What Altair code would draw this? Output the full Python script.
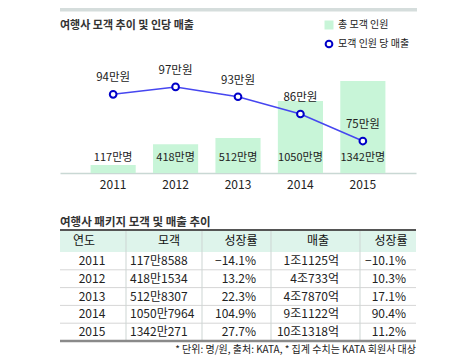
import altair as alt
import pandas as pd

# ---- data ----
years = ["2011", "2012", "2013", "2014", "2015"]
visitors = [117, 418, 512, 1050, 1342]                      # 만명
visitor_labels = ["117만명", "418만명", "512만명", "1050만명", "1342만명"]
per_capita = [94, 97, 93, 86, 75]                           # 만원
per_capita_labels = ["94만원", "97만원", "93만원", "86만원", "75만원"]

tbl_customers = ["117만8588", "418만1534", "512만8307", "1050만7964", "1342만271"]
tbl_cust_growth = ["−14.1%", "13.2%", "22.3%", "104.9%", "27.7%"]
tbl_sales = ["1조1125억", "4조733억", "4조7870억", "9조1122억", "10조1318억"]
tbl_sales_growth = ["−10.1%", "10.3%", "17.1%", "90.4%", "11.2%"]
tbl_headers = ["연도", "모객", "성장률", "매출", "성장률"]

title_top = "여행사 모객 추이 및 인당 매출"
title_table = "여행사 패키지 모객 및 매출 추이"
legend_bar = "총 모객 인원"
legend_line = "모객 인원 당 매출"
footnote = "* 단위: 명/원, 출처: KATA, * 집계 수치는 KATA 회원사 대상"

# ---- styling ----
FONT = "Noto Sans CJK KR"
BAR_COLOR = "#c8f5d8"
LINE_COLOR = "#4646f0"
MARK_STROKE = "#0000c8"
TEXT = "#222222"
W = 356
TOP_H = 165
TAB_H = 89


def one(text=""):
    return alt.Chart(pd.DataFrame({"t": [text]}))


def deco_text(text, x, y, **kw):
    return one(text).mark_text(**kw).encode(x=alt.value(x), y=alt.value(y), text="t:N")


def hrule(x1, x2, y, color, width):
    return one().mark_rule(color=color, strokeWidth=width).encode(
        x=alt.value(x1), x2=alt.value(x2), y=alt.value(y))


def vrule(x, y1, y2, color, width):
    return one().mark_rule(color=color, strokeWidth=width).encode(
        x=alt.value(x), y=alt.value(y1), y2=alt.value(y2))


# ---------------- top chart ----------------
top_df = pd.DataFrame({
    "year": years, "visitors": visitors, "vlab": visitor_labels,
    "pc": per_capita, "pclab": per_capita_labels,
})

x_enc = alt.X(
    "year:O",
    scale=alt.Scale(type="band", paddingInner=0.277, paddingOuter=0.49),
    axis=alt.Axis(title=None, labelAngle=0, ticks=False, domainColor="#c9d8d4",
                  domainWidth=1.5, labelFontSize=12, labelColor=TEXT,
                  labelPadding=6, grid=False),
)
y_bar = alt.Y("visitors:Q", scale=alt.Scale(domain=[0, 2407], nice=False, zero=True), axis=None)
y_line = alt.Y("pc:Q", scale=alt.Scale(domain=[62, 129.1], nice=False, zero=False), axis=None)

base = alt.Chart(top_df)
bars = base.mark_bar(color=BAR_COLOR).encode(x=x_enc, y=y_bar)
bar_labels = base.mark_text(fontSize=11, color=TEXT).encode(
    x=x_enc, y=alt.value(150), text="vlab:N")
line = base.mark_line(color=LINE_COLOR, strokeWidth=1.5).encode(x=x_enc, y=y_line)
points = base.mark_point(shape="circle", filled=True, fill="white", stroke=MARK_STROKE,
                         strokeWidth=2, size=45, opacity=1).encode(x=x_enc, y=y_line)
line_labels = base.mark_text(fontSize=11.5, color=TEXT, dy=-16).encode(
    x=x_enc, y=y_line, text="pclab:N")

top_bar = hrule(0, 357, 1.75, "#d5dddc", 3.5)
top_title = deco_text(title_top, 0, 18, align="left", fontSize=11, fontWeight="bold", color="#333333")
leg_sq = one().mark_square(size=81, color=BAR_COLOR, opacity=1).encode(
    x=alt.value(269), y=alt.value(17))
leg_t1 = deco_text(legend_bar, 278, 17, align="left", fontSize=10, color=TEXT)
leg_circ = one().mark_point(shape="circle", filled=True, fill="white", stroke=MARK_STROKE,
                            strokeWidth=2, size=45, opacity=1).encode(
    x=alt.value(269), y=alt.value(36))
leg_t2 = deco_text(legend_line, 278, 36, align="left", fontSize=10, color=TEXT)

top = alt.layer(
    top_bar, top_title, leg_sq, leg_t1, leg_circ, leg_t2,
    bars, bar_labels, line, points, line_labels,
).resolve_scale(y="independent").properties(width=W, height=TOP_H)

# ---------------- table ----------------
tab_df = pd.DataFrame({
    "year": years, "cust": tbl_customers, "cg": tbl_cust_growth,
    "sales": tbl_sales, "sg": tbl_sales_growth,
})
row_scale = alt.Scale(type="band", paddingInner=0, paddingOuter=0)
y_rows = alt.Y("year:O", scale=row_scale, axis=None)
tbase = alt.Chart(tab_df)

header_bg = one().mark_rect(color="#def4eb").encode(
    x=alt.value(0), x2=alt.value(W), y=alt.value(-22), y2=alt.value(0))
row_lines = tbase.transform_filter("datum.year != '2011'").mark_rule(
    color="#d6d6d6", strokeWidth=1).encode(
    x=alt.value(0), x2=alt.value(W),
    y=alt.Y("year:O", scale=row_scale, axis=None, bandPosition=0))

col_lines = [vrule(cx, -22, TAB_H, "#cdd5d3", 1) for cx in (66, 142, 211, 300)]

header_x = [24, 109, 181, 258, 331]
headers = [deco_text(h, hx, -11, fontSize=12, color="#111111") for h, hx in zip(tbl_headers, header_x)]

cells = [
    tbase.mark_text(fontSize=12, color=TEXT, align="center").encode(x=alt.value(32), y=y_rows, text="year:N"),
    tbase.mark_text(fontSize=12, color=TEXT, align="left").encode(x=alt.value(70), y=y_rows, text="cust:N"),
    tbase.mark_text(fontSize=12, color=TEXT, align="right").encode(x=alt.value(196), y=y_rows, text="cg:N"),
    tbase.mark_text(fontSize=12, color=TEXT, align="right").encode(x=alt.value(279), y=y_rows, text="sales:N"),
    tbase.mark_text(fontSize=12, color=TEXT, align="right").encode(x=alt.value(346), y=y_rows, text="sg:N"),
]

top_border = hrule(0, W, -22, "#555555", 2)
bottom_border = hrule(0, W, TAB_H, "#8a8a8a", 2.5)
tab_title = deco_text(title_table, 0, -29, align="left", fontSize=11.5, fontWeight="bold", color="#333333")
foot = deco_text(footnote, W, 98, align="right", fontSize=10, color=TEXT)

table = alt.layer(
    header_bg, row_lines, *col_lines, *headers, *cells,
    top_border, bottom_border, tab_title, foot,
).properties(width=W, height=TAB_H)

chart = alt.vconcat(top, table, spacing=79, bounds="flush").properties(
    padding={"left": 50, "top": 0, "right": 0, "bottom": 0}
).configure(font=FONT).configure_view(stroke=None)

chart.save("out.html", embed_options={"renderer": "svg", "actions": False})
